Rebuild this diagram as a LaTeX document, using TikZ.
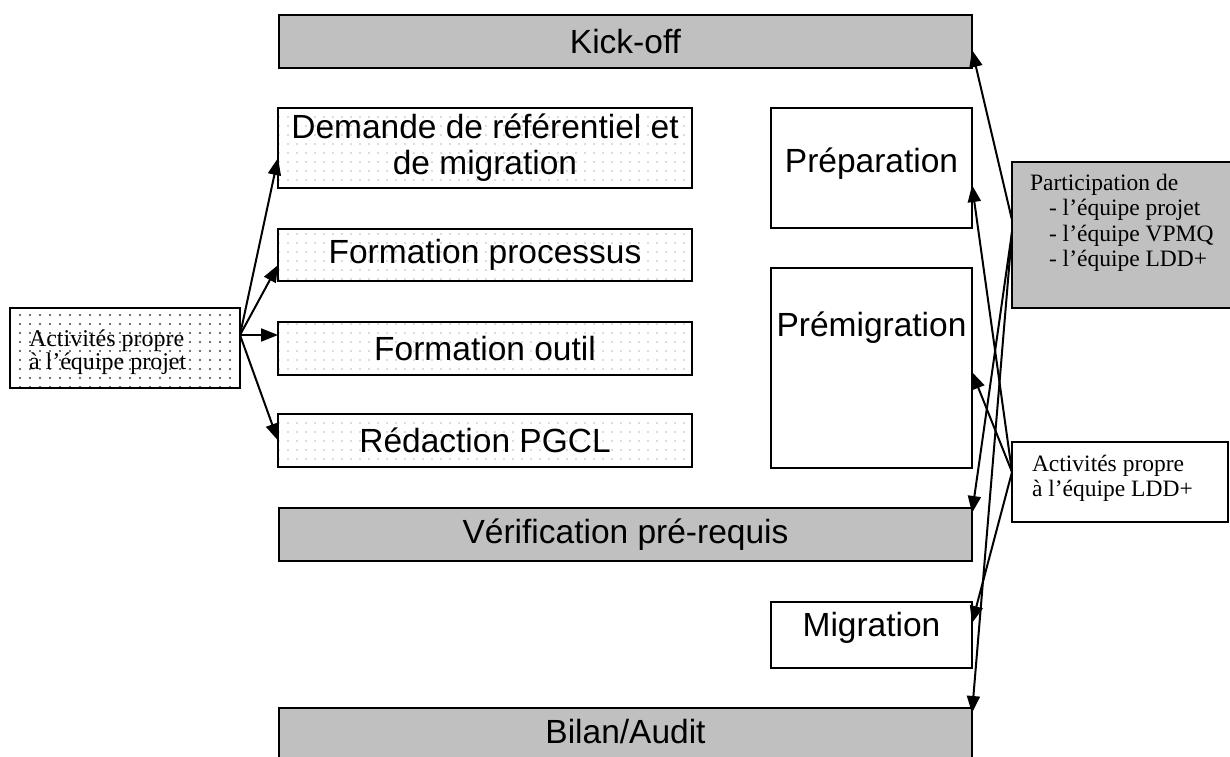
\documentclass[tikz,border=0pt]{standalone}
\usepackage{fontspec}
\newfontfamily\arialf{Liberation Sans}
\newfontfamily\tnrf{Liberation Serif}
\usetikzlibrary{arrows.meta,patterns,calc}
\pgfdeclarepatternformonly{sparsedots}{\pgfqpoint{-1pt}{-1pt}}{\pgfqpoint{1pt}{1pt}}{\pgfqpoint{9pt}{9pt}}{\pgfpathcircle{\pgfqpoint{0pt}{0pt}}{0.9pt}\pgfusepath{fill}}
\pgfdeclarepatternformonly{darkdots}{\pgfqpoint{-1.5pt}{-1.5pt}}{\pgfqpoint{1.5pt}{1.5pt}}{\pgfqpoint{10pt}{9pt}}{\pgfpathcircle{\pgfqpoint{0pt}{0pt}}{1.1pt}\pgfusepath{fill}}
\definecolor{boxgray}{RGB}{192,192,192}
\begin{document}
\begin{tikzpicture}[x=1pt,y=-1pt,
  every node/.style={inner sep=0pt, outer sep=0pt},
  base/.style={draw=black, line width=2pt, rectangle},
  graybox/.style={base, fill=boxgray},
  whitebox/.style={base, fill=white},
  dotbox/.style={base, pattern=sparsedots, pattern color=gray!55},
  darkdotbox/.style={base, pattern=darkdots, pattern color=black!75},
  big/.style={font=\arialf\fontsize{33.5}{36}\selectfont, align=center},
  small/.style={font=\tnrf\fontsize{23.5}{25.5}\selectfont, align=left},
  arr/.style={line width=2pt, -{Triangle[length=17pt,width=13pt]}}
]
\useasboundingbox (0,0) rectangle (1230,756);
\clip (0,0) rectangle (1230,756);

% middle column
\node (kick) [graybox, big, minimum width=693pt, minimum height=53pt] at (625.5,41.5) {Kick-off};
\node (dem) [dotbox, big, minimum width=414pt, minimum height=80pt] at (485,148) {Demande de référentiel et\\de migration};
\node (fp) [dotbox, big, minimum width=414pt, minimum height=52pt] at (485,255) {Formation processus};
\node (fo) [dotbox, big, minimum width=414pt, minimum height=53pt] at (485,348.5) {Formation outil};
\node (rp) [dotbox, big, minimum width=414pt, minimum height=53pt] at (485,440.5) {Rédaction PGCL};
\node (verif) [graybox, big, minimum width=693pt, minimum height=53pt] at (625.5,534.5) {Vérification pré-requis};
\node (bilan) [graybox, minimum width=693pt, minimum height=52pt] at (625.5,734) {};
\node (bilantxt) [big] at ($(bilan.north)+(0,24)$) {Bilan/Audit};

% right column of phases
\node (prep) [whitebox, minimum width=201pt, minimum height=120pt] at (871.5,168) {};
\node (preptxt) [big] at ($(prep.north)+(0,56)$) {Préparation};
\node (premig) [whitebox, minimum width=201pt, minimum height=200pt] at (871.5,368) {};
\node (premigtxt) [big] at ($(premig.north)+(0,60)$) {Prémigration};
\node (mig) [whitebox, minimum width=201pt, minimum height=66pt] at (871.5,635) {};
\node (migtxt) [big] at ($(mig.north)+(0,26)$) {Migration};

% side boxes
\node (part) [graybox, minimum width=233pt, minimum height=146pt, anchor=north west] at (1012,162) {};
\node (parttxt) [small, anchor=north west] at (1030,174) {Participation de\\\hspace*{19pt}- l’équipe projet\\\hspace*{19pt}- l’équipe VPMQ\\\hspace*{19pt}- l’équipe LDD+};
\node (ldd) [whitebox, minimum width=216pt, minimum height=80pt, anchor=north west] at (1012,442) {};
\node (lddtxt) [small, anchor=north west] at (1032,455) {Activités propre\\à l’équipe LDD+};
\node (act) [darkdotbox, minimum width=230pt, minimum height=80pt, anchor=north west] at (10,308) {};
\node (acttxt) [font=\tnrf\fontsize{24}{21}\selectfont, align=left, anchor=west] at ($(act.west)+(19,4)$) {Activités propre\\à l’équipe projet};

% left arrows
\coordinate (o) at ($(act.north east)+(0,27)$);
\draw[arr] (o) -- ($(dem.west)+(0,10)$);
\draw[arr] (o) -- ($(fp.west)+(0,10)$);
\draw[arr] (o) -- ($(fo.west)+(0,-13.5)$);
\draw[arr] (o) -- (rp.west);

% right arrows from participation
\coordinate (p1) at ($(part.west)+(0,-15)$);
\coordinate (p2) at ($(part.west)+(0,-3)$);
\draw[arr] (p1) -- ($(kick.north east)+(0,35)$);
\draw[arr] (p2) -- ($(verif.north east)+(0,5)$);
\draw[arr] (p2) -- ($(bilan.north east)+(0,5)$);

% right arrows from LDD+
\coordinate (l1) at ($(ldd.west)+(0,-10)$);
\draw[arr] (l1) -- ($(prep.east)+(0,17)$);
\draw[arr] (l1) -- ($(premig.east)+(0,4)$);
\draw[arr] (l1) -- ($(mig.east)+(0,-12)$);
\end{tikzpicture}
\end{document}
